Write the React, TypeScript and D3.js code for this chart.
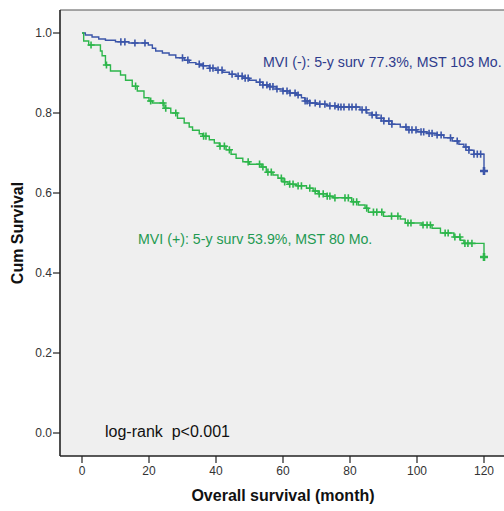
import React from 'react';
import * as d3 from 'd3';

const W = 504;
const H = 511;

// MVI (-): event times (months) and cumulative survival after each event
const negTimes = [1, 3, 5, 7, 10, 14, 19.8, 21, 22, 24, 26, 28, 30.5, 32, 34, 36, 38, 40, 42, 44, 46, 48, 50, 52, 54, 56, 58, 60, 62, 64, 65.5, 66.5, 68, 70, 73, 76, 83, 85, 86.5, 88, 90, 92.5, 95, 97, 100, 103, 106, 108, 110.5, 112.5, 114, 115.5, 117, 120];
const negSurv = [0.995, 0.99, 0.985, 0.982, 0.978, 0.975, 0.97, 0.962, 0.955, 0.95, 0.945, 0.938, 0.932, 0.926, 0.922, 0.918, 0.912, 0.907, 0.902, 0.897, 0.892, 0.887, 0.882, 0.877, 0.87, 0.866, 0.86, 0.855, 0.85, 0.845, 0.838, 0.83, 0.825, 0.822, 0.818, 0.815, 0.808, 0.8, 0.795, 0.787, 0.78, 0.772, 0.765, 0.758, 0.753, 0.749, 0.745, 0.738, 0.73, 0.722, 0.715, 0.707, 0.697, 0.655];
const negCensored = [11.6, 12.8, 15.8, 18.8, 30, 31.6, 35, 36.2, 38.2, 39.1, 40.6, 41.8, 44.8, 46.6, 47.8, 48.7, 49.6, 53.1, 54, 55.2, 56.1, 57, 58.2, 60, 61.2, 62.1, 63.6, 64.5, 66.6, 67.2, 68, 69.6, 71, 72.5, 74, 75.5, 76.5, 77.3, 78.2, 79.7, 80.6, 81.8, 83.6, 84.8, 86.6, 87.8, 89.3, 90.1, 91.6, 92.5, 96.7, 97.6, 98.5, 99.7, 101.2, 102, 103.6, 104.5, 106, 107.2, 110, 112, 114.6, 115.5, 117, 118, 119];

// MVI (+)
const posTimes = [0.5, 2, 5.5, 6, 7, 8.5, 11.5, 13, 15, 16.5, 18.5, 20, 21, 24.5, 26.5, 28.5, 30.5, 32, 33, 35, 36, 38, 39.5, 41, 43, 44.5, 46, 48, 50, 53.5, 55, 57, 58.5, 60, 61.5, 64, 67, 69, 70.5, 73, 75, 80.5, 82.5, 84.5, 85.5, 90, 95, 96.5, 101.5, 104.5, 107, 111, 113, 114, 120];
const posSurv = [0.98, 0.97, 0.955, 0.943, 0.92, 0.905, 0.895, 0.882, 0.867, 0.855, 0.838, 0.83, 0.825, 0.812, 0.8, 0.787, 0.775, 0.765, 0.757, 0.748, 0.742, 0.733, 0.725, 0.717, 0.708, 0.697, 0.687, 0.678, 0.672, 0.665, 0.652, 0.645, 0.637, 0.628, 0.622, 0.618, 0.612, 0.605, 0.598, 0.592, 0.588, 0.578, 0.57, 0.562, 0.552, 0.542, 0.535, 0.525, 0.52, 0.512, 0.5, 0.49, 0.482, 0.474, 0.44];
const posCensored = [2.7, 7.3, 16, 20.5, 24.2, 25, 28, 36.3, 37, 41.2, 42.5, 44, 49.6, 53, 54, 55.5, 56.5, 59.5, 60.5, 62, 63, 64.5, 65.5, 68, 69.6, 70.8, 72, 73.2, 74, 75.5, 78.5, 79.5, 81, 82, 85, 87, 88, 89.5, 92.4, 94.3, 97.3, 98.2, 101.8, 103, 104, 108.4, 109.3, 111.3, 112.8, 114.3, 115.2, 116.4];

const lastFollowUp = 120;

const yTicks = [0, 0.2, 0.4, 0.6, 0.8, 1.0];
const xTicks = [0, 20, 40, 60, 80, 100, 120];

const FONT = '"Liberation Sans", Arial, sans-serif';
const BLUE = '#3b55a9';
const GREEN = '#2db64b';

const x = d3.scaleLinear().domain([0, 120]).range([82, 484]);
const y = d3.scaleLinear().domain([0, 1]).range([433, 33]);

function stepPoints(times: number[], surv: number[]): [number, number][] {
  return [[0, 1] as [number, number]].concat(times.map((t, i) => [t, surv[i]] as [number, number]));
}

function survivalAt(times: number[], surv: number[], t: number): number {
  let s = 1;
  for (let i = 0; i < times.length; i++) {
    if (times[i] <= t) s = surv[i];
  }
  return s;
}

const line = d3
  .line<[number, number]>()
  .x((d) => x(d[0]))
  .y((d) => y(d[1]))
  .curve(d3.curveStepAfter);

function Plus({ cx, cy, r, w, color }: { cx: number; cy: number; r: number; w: number; color: string }) {
  return (
    <path
      d={`M${cx - r},${cy}H${cx + r}M${cx},${cy - r}V${cy + r}`}
      stroke={color}
      strokeWidth={w}
      fill="none"
    />
  );
}

function Curve({ times, surv, censored, color }: { times: number[]; surv: number[]; censored: number[]; color: string }) {
  const pts = stepPoints(times, surv);
  return (
    <g>
      <path d={line(pts) || ''} fill="none" stroke={color} strokeWidth={1.4} />
      {censored.map((t, i) => (
        <Plus key={i} cx={x(t)} cy={y(survivalAt(times, surv, t))} r={3.6} w={1.6} color={color} />
      ))}
      <Plus
        cx={x(lastFollowUp)}
        cy={y(survivalAt(times, surv, lastFollowUp))}
        r={4}
        w={2.6}
        color={color}
      />
    </g>
  );
}

export default function App() {
  const left = 60;
  const top = 10;
  const bottom = 456;
  const right = 520;
  return (
    <svg
      width={W}
      height={H}
      viewBox={`0 0 ${W} ${H}`}
      style={{ position: 'absolute', left: 0, top: 0, background: '#fff' }}
      fontFamily={FONT}
    >
      <rect x={left} y={top} width={right - left} height={bottom - top} fill="#efefef" />
      <line x1={left} x2={right} y1={top} y2={top} stroke="#555" strokeWidth={1.2} />

      <Curve times={negTimes} surv={negSurv} censored={negCensored} color={BLUE} />
      <Curve times={posTimes} surv={posSurv} censored={posCensored} color={GREEN} />

      {/* axes */}
      <line x1={left} x2={left} y1={top} y2={bottom} stroke="#222" strokeWidth={1.6} />
      <line x1={left} x2={right} y1={bottom} y2={bottom} stroke="#222" strokeWidth={1.6} />

      {yTicks.map((v) => (
        <g key={v}>
          <line x1={53} x2={left} y1={y(v)} y2={y(v)} stroke="#222" strokeWidth={1.2} />
          <text x={52} y={y(v) + 4} textAnchor="end" fontSize={12} fill="#333">
            {v.toFixed(1)}
          </text>
        </g>
      ))}
      {xTicks.map((t) => (
        <g key={t}>
          <line x1={x(t)} x2={x(t)} y1={bottom} y2={bottom + 7} stroke="#222" strokeWidth={1.2} />
          <text x={x(t)} y={475} textAnchor="middle" fontSize={12} fill="#333">
            {t}
          </text>
        </g>
      ))}

      <text
        transform="translate(23,233) rotate(-90)"
        textAnchor="middle"
        fontSize={16}
        fontWeight="bold"
        fill="#111"
      >
        Cum Survival
      </text>
      <text x={283} y={501} textAnchor="middle" fontSize={16} fontWeight="bold" fill="#111">
        Overall survival (month)
      </text>

      <text x={263} y={67} fontSize={14.2} fill="#2e3b8c">
        MVI (-): 5-y surv 77.3%, MST 103 Mo.
      </text>
      <text x={138} y={244} fontSize={14.2} fill="#1f9a52">
        MVI (+): 5-y surv 53.9%, MST 80 Mo.
      </text>
      <text x={105} y={437} fontSize={16} fill="#111" style={{ whiteSpace: 'pre' }}>
        {'log-rank  p<0.001'}
      </text>
    </svg>
  );
}
